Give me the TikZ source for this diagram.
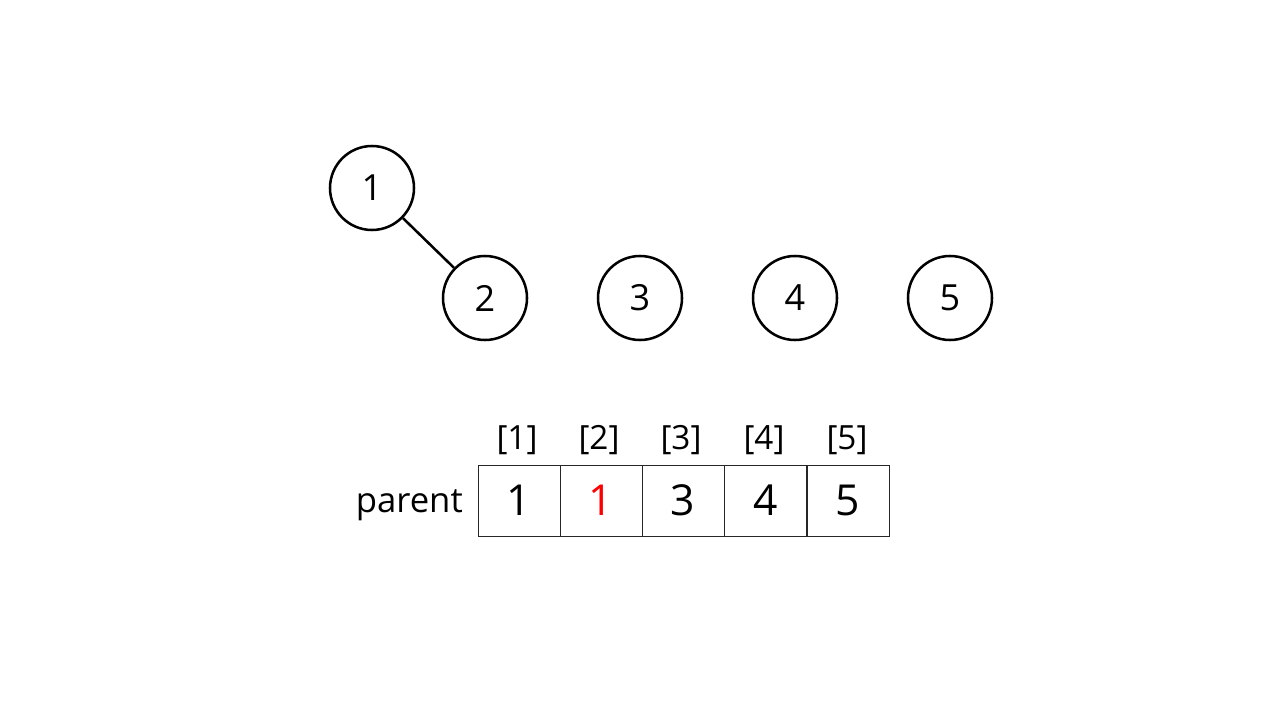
\documentclass[tikz,border=0pt]{standalone}
\usepackage{fontspec}
\setmainfont{Open Sans}
\definecolor{hl}{RGB}{255,0,0}
\begin{document}
\begin{tikzpicture}[x=0.75pt,y=-0.75pt,
  vtx/.style={circle,draw=black,line width=1.9pt,minimum size=84*0.75pt,inner sep=0pt,font=\fontsize{27}{30}\selectfont},
  edge/.style={line width=1.9pt},
  cell/.style={rectangle,draw=black!85,line width=0.7pt,minimum width=82*0.75pt,minimum height=71*0.75pt,inner sep=0pt,font=\fontsize{32}{38}\selectfont},
  idx/.style={font=\fontsize{25}{30}\selectfont,inner sep=0pt},
  lbl/.style={font=\fontsize{26}{30}\selectfont,inner sep=0pt,anchor=base east}]
\useasboundingbox (0,0) rectangle (1280,720);
\node[vtx] (n1) at (372,188) {1};
\node[vtx] (n2) at (485,298) {2};
\node[vtx] (n3) at (640,298) {3};
\node[vtx] (n4) at (795,298) {4};
\node[vtx] (n5) at (950,298) {5};
\draw[edge] (n1) -- (n2);
\node[cell] (c1) at (519,500.5) {1};
\node[cell] (c2) at (601,500.5) {\textcolor{hl}{1}};
\node[cell] (c3) at (683,500.5) {3};
\node[cell] (c4) at (765.5,500.5) {4};
\node[cell] (c5) at (848,500.5) {5};
\node[idx] (i1) at (517,440) {[1]};
\node[idx] (i2) at (599,440) {[2]};
\node[idx] (i3) at (681,440) {[3]};
\node[idx] (i4) at (764,440) {[4]};
\node[idx] (i5) at (847,440) {[5]};
\node[lbl] (par) at (463,512) {parent};
\end{tikzpicture}
\end{document}
